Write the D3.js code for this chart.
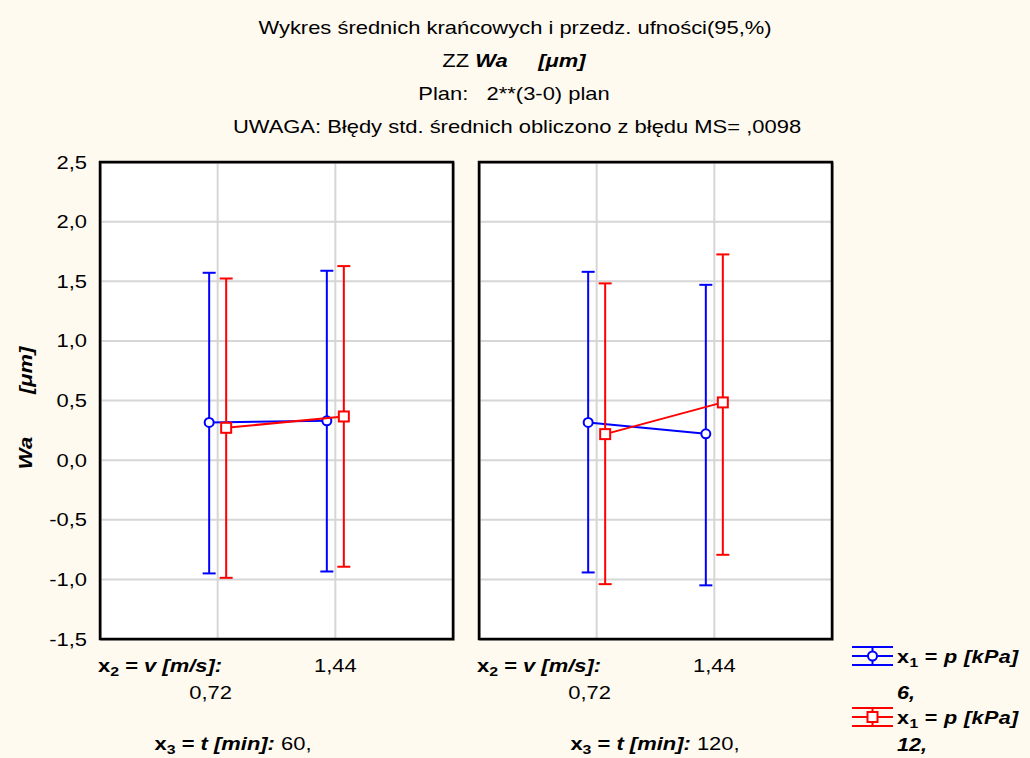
<!DOCTYPE html>
<html><head><meta charset="utf-8">
<script src="https://cdn.jsdelivr.net/npm/d3@7"></script>
<style>
body{margin:0;background:#fffaf0;}
svg{display:block;font-family:"Liberation Sans",Arial,sans-serif;}
text{white-space:pre;}
</style></head>
<body><svg id="c" width="1030" height="758"></svg>
<script>
// ---- data ----
const categories = ["0,72", "1,44"];          // x2 = v [m/s]
const panels = ["60,", "120,"];               // x3 = t [min]
const series = ["6,", "12,"];                 // x1 = p [kPa]
const yTicks = [-1.5, -1.0, -0.5, 0.0, 0.5, 1.0, 1.5, 2.0, 2.5];
// order: panel 60 (0,72 ; 1,44), panel 120 (0,72 ; 1,44)
const mean6  = [0.316, 0.330, 0.316, 0.221];
const low6   = [-0.950, -0.934, -0.942, -1.050];
const high6  = [1.571, 1.588, 1.579, 1.470];
const mean12 = [0.271, 0.366, 0.218, 0.484];
const low12  = [-0.987, -0.894, -1.040, -0.794];
const high12 = [1.523, 1.627, 1.482, 1.725];
const titleLines = ["Wykres średnich krańcowych i przedz. ufności(95,%)", "ZZ ", "Plan:   2**(3-0) plan", "UWAGA: Błędy std. średnich obliczono z błędu MS= ,0098"];

(function () {
// ---- layout ----
const svg = d3.select("#c");
const W = 1030;
const FS = 18, SX = 1.22;
const plotTop = 162, plotBottom = 639;
const y = d3.scaleLinear().domain([-1.5, 2.5]).range([plotBottom, plotTop]);
const off = d3.scalePoint().domain(series).range([-8.5, 8.5]);
const colors = {"6,": "#0000ff", "12,": "#ff0000"};
const seriesData = [
  {key: "6,", mean: mean6, low: low6, high: high6},
  {key: "12,", mean: mean12, low: low12, high: high12}
];
function txt(parent, x, yy, anchor, extra, sx) {
  return parent.append("text")
    .attr("transform", `translate(${x},${yy})${extra || ""} scale(${sx || SX},1)`)
    .attr("text-anchor", anchor || "start").attr("font-size", FS).attr("fill", "#000");
}

svg.append("rect").attr("width", W).attr("height", 758).attr("fill", "#fffaf0");

// titles
txt(svg, 515, 34, "middle").text(titleLines[0]);
const t2 = txt(svg, 514, 67, "middle");
t2.append("tspan").text(titleLines[1]);
t2.append("tspan").attr("font-weight", "bold").attr("font-style", "italic").text("Wa     [μm]");
txt(svg, 514, 100, "middle").text(titleLines[2]);
txt(svg, 517, 133, "middle").text(titleLines[3]);

// y axis tick labels
yTicks.forEach(d => {
  txt(svg, 87, y(d) + 6.5, "end").text(d3.format(".1f")(d).replace(".", ",").replace("−", "-"));
});

// y axis title
txt(svg, 32, 408, "middle", " rotate(-90)")
  .attr("font-weight", "bold").attr("font-style", "italic")
  .text("Wa       [μm]");

panels.forEach((p, pi) => {
  const x0 = pi === 0 ? 100 : 479;
  const x1 = x0 + 353;
  const x = d3.scalePoint().domain(categories).range([x0, x1]).padding(1);
  const g = svg.append("g");
  g.append("rect").attr("x", x0).attr("y", plotTop).attr("width", x1 - x0).attr("height", plotBottom - plotTop).attr("fill", "#fff");
  // grid
  g.selectAll(".hg").data(yTicks.slice(1, -1)).join("line")
    .attr("x1", x0).attr("x2", x1).attr("y1", d => y(d)).attr("y2", d => y(d))
    .attr("stroke", "#d6d6d6").attr("stroke-width", 2);
  g.selectAll(".vg").data(categories).join("line")
    .attr("x1", d => x(d)).attr("x2", d => x(d)).attr("y1", plotTop).attr("y2", plotBottom)
    .attr("stroke", "#d6d6d6").attr("stroke-width", 2);
  // shadow + frame
  g.append("rect").attr("x", x0 + 1).attr("y", plotTop + 1).attr("width", x1 - x0).attr("height", plotBottom - plotTop)
    .attr("fill", "none").attr("stroke", "#888").attr("stroke-width", 1.5);
  g.append("rect").attr("x", x0).attr("y", plotTop).attr("width", x1 - x0).attr("height", plotBottom - plotTop)
    .attr("fill", "none").attr("stroke", "#000").attr("stroke-width", 2.5);

  seriesData.forEach(s => {
    const c = colors[s.key];
    const pts = categories.map((cat, ci) => {
      const i = pi * 2 + ci;
      return {cx: x(cat) + off(s.key), m: s.mean[i], lo: s.low[i], hi: s.high[i]};
    });
    const sg = g.append("g").attr("stroke", c).attr("fill", "none").attr("stroke-width", 2);
    sg.selectAll(".eb").data(pts).join("line")
      .attr("x1", d => d.cx).attr("x2", d => d.cx).attr("y1", d => y(d.lo)).attr("y2", d => y(d.hi));
    sg.selectAll(".cl").data(pts).join("line")
      .attr("x1", d => d.cx - 6.5).attr("x2", d => d.cx + 6.5).attr("y1", d => y(d.lo)).attr("y2", d => y(d.lo));
    sg.selectAll(".ch").data(pts).join("line")
      .attr("x1", d => d.cx - 6.5).attr("x2", d => d.cx + 6.5).attr("y1", d => y(d.hi)).attr("y2", d => y(d.hi));
    sg.append("path").attr("d", d3.line().x(d => d.cx).y(d => y(d.m))(pts));
    if (s.key === "6,") {
      sg.selectAll(".mk").data(pts).join("circle").attr("cx", d => d.cx).attr("cy", d => y(d.m)).attr("r", 4.5).attr("fill", "#fff");
    } else {
      sg.selectAll(".mk").data(pts).join("rect").attr("x", d => d.cx - 5).attr("y", d => y(d.m) - 5).attr("width", 10).attr("height", 10).attr("fill", "#fff");
    }
  });

  // x labels
  const xl = txt(svg, x0 - 2, 672, "start").attr("font-weight", "bold");
  xl.append("tspan").text("x");
  xl.append("tspan").attr("font-size", 13).attr("dy", 4).text("2");
  xl.append("tspan").attr("dy", -4).text(" = ");
  xl.append("tspan").attr("font-style", "italic").text("v [m/s]:");
  txt(svg, x(categories[1]), 672, "middle").text(categories[1]);
  txt(svg, x(categories[0]) - 7, 699, "middle").text(categories[0]);
  const x3 = txt(svg, pi === 0 ? 233 : 655, 750, "middle");
  x3.append("tspan").attr("font-weight", "bold").text("x");
  x3.append("tspan").attr("font-weight", "bold").attr("font-size", 13).attr("dy", 4).text("3");
  x3.append("tspan").attr("font-weight", "bold").attr("dy", -4).text(" = ");
  x3.append("tspan").attr("font-weight", "bold").attr("font-style", "italic").text("t [min]:");
  x3.append("tspan").text(" " + p);
});

// legend
const legY = [656, 717];
const legY2 = [699, 751];
seriesData.forEach((s, i) => {
  const c = colors[s.key];
  const cy = legY[i];
  const g = svg.append("g").attr("stroke", c).attr("stroke-width", 2).attr("fill", "none");
  g.append("line").attr("x1", 852).attr("x2", 893).attr("y1", cy - 9).attr("y2", cy - 9);
  g.append("line").attr("x1", 852).attr("x2", 893).attr("y1", cy + 9).attr("y2", cy + 9);
  g.append("line").attr("x1", 852).attr("x2", 893).attr("y1", cy).attr("y2", cy);
  g.append("line").attr("x1", 872.5).attr("x2", 872.5).attr("y1", cy - 9).attr("y2", cy + 9);
  if (i === 0) g.append("circle").attr("cx", 872.5).attr("cy", cy).attr("r", 4.5).attr("fill", "#fff");
  else g.append("rect").attr("x", 867.5).attr("y", cy - 5).attr("width", 10).attr("height", 10).attr("fill", "#fff");
  const t = txt(svg, 897, cy + 7, "start", "", 1.2).attr("font-weight", "bold").attr("letter-spacing", 0.3);
  t.append("tspan").text("x");
  t.append("tspan").attr("font-size", 13).attr("dy", 4).text("1");
  t.append("tspan").attr("dy", -4).text(" = ");
  t.append("tspan").attr("font-style", "italic").text("p [kPa]");
  txt(svg, 897, legY2[i], "start", "", 1.2).attr("font-weight", "bold").attr("font-style", "italic").text(s.key);
});
})();
</script></body></html>
